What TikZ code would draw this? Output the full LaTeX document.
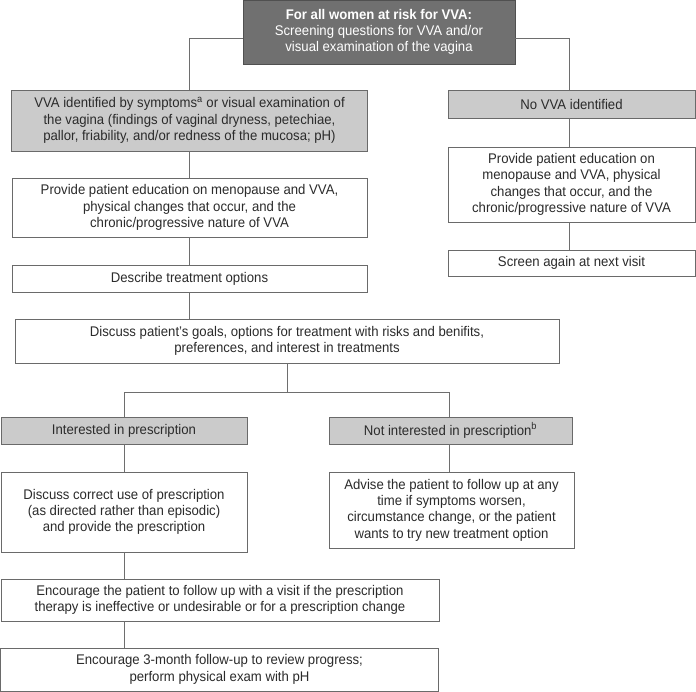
\documentclass[tikz,border=0pt]{standalone}
\usepackage{fontspec}
\setmainfont{Liberation Sans}[FakeStretch=0.94]
\definecolor{txt}{HTML}{2B2B2B}
\definecolor{linec}{HTML}{6E6E6E}
\definecolor{darkfill}{HTML}{707070}
\definecolor{darkedge}{HTML}{505050}
\definecolor{lightfill}{HTML}{CBCBCB}
\definecolor{boxedge}{HTML}{6A6A6A}
\tikzset{
  base/.style={rectangle, inner sep=0pt, align=center, text=txt,
    font=\fontsize{14}{16.3}\selectfont, line width=0.9pt},
  whitebox/.style={base, draw=boxedge, fill=white},
  graybox/.style={base, draw=boxedge, fill=lightfill},
  darkbox/.style={base, draw=darkedge, fill=darkfill, text=white},
  conn/.style={draw=linec, line width=0.9pt}
}
\begin{document}
\begin{tikzpicture}[x=1pt,y=-1pt]
\useasboundingbox (0,0) rectangle (696,692);
\fill[white] (0,0) rectangle (696,692);

\node[darkbox, minimum width=272pt, minimum height=64pt] (top) at (379,32)
  {\textbf{For all women at risk for VVA:}\\Screening questions for VVA and/or\\visual examination of the vagina};
\node[graybox, minimum width=356pt, minimum height=61pt] (vva) at (189.5,120.5)
  {VVA identified by symptoms\textsuperscript{a} or visual examination of\\the vagina (findings of vaginal dryness, petechiae,\\pallor, friability, and/or redness of the mucosa; pH)};
\node[graybox, minimum width=247pt, minimum height=28pt] (novva) at (571.5,104)
  {No VVA identified};
\node[whitebox, minimum width=355pt, minimum height=59pt] (edu1) at (189.5,207.5)
  {Provide patient education on menopause and VVA,\\physical changes that occur, and the\\chronic/progressive nature of VVA};
\node[whitebox, minimum width=247pt, minimum height=75pt] (edu2) at (571.5,184.5)
  {Provide patient education on\\menopause and VVA, physical\\changes that occur, and the\\chronic/progressive nature of VVA};
\node[whitebox, minimum width=247pt, minimum height=26pt] (screen) at (571.5,263)
  {Screen again at next visit};
\node[whitebox, minimum width=355pt, minimum height=27pt] (describe) at (189.5,278.5)
  {Describe treatment options};
\node[whitebox, minimum width=544pt, minimum height=44pt] (discuss) at (287,341)
  {Discuss patient's goals, options for treatment with risks and benifits,\\preferences, and interest in treatments};
\node[graybox, minimum width=246pt, minimum height=27pt] (interested) at (124,430.5)
  {Interested in prescription};
\node[graybox, minimum width=243pt, minimum height=27pt] (notint) at (450.5,430.5)
  {Not interested in prescription\textsuperscript{b}};
\node[whitebox, minimum width=246pt, minimum height=80pt] (dcorrect) at (124,512)
  {Discuss correct use of prescription\\(as directed rather than episodic)\\and provide the prescription};
\node[whitebox, minimum width=245pt, minimum height=76pt] (advise) at (451.5,510)
  {Advise the patient to follow up at any\\time if symptoms worsen,\\circumstance change, or the patient\\wants to try new treatment option};
\node[whitebox, minimum width=438pt, minimum height=42pt] (encourage) at (220,600)
  {Encourage the patient to follow up with a visit if the prescription\\therapy is ineffective or undesirable or for a prescription change};
\node[whitebox, minimum width=438pt, minimum height=43pt] (enc3) at (219.5,669.5)
  {Encourage 3-month follow-up to review progress;\\perform physical exam with pH};

\coordinate (split) at (287,392);

\draw[conn] ([yshift=-6pt]top.west) -| (vva.north);
\draw[conn] ([yshift=-6pt]top.east) -| ([xshift=-2.5pt]novva.north);
\draw[conn] (vva.south) -- (edu1.north);
\draw[conn] (edu1.south) -- (describe.north);
\draw[conn] (describe.south) -- (describe.south |- discuss.north);
\draw[conn] ([xshift=-2.5pt]novva.south) -- ([xshift=-2.5pt]edu2.north);
\draw[conn] ([xshift=-2.5pt]edu2.south) -- ([xshift=-2.5pt]screen.north);
\draw[conn] (discuss.south) -- (split);
\draw[conn] (split) -| (interested.north);
\draw[conn] (split) -| ([xshift=-1.5pt]notint.north);
\draw[conn] (interested.south) -- (dcorrect.north);
\draw[conn] ([xshift=-1.5pt]notint.south) -- ([xshift=-1.5pt]notint.south |- advise.north);
\draw[conn] (dcorrect.south) -- (dcorrect.south |- encourage.north);
\draw[conn] (dcorrect.south |- encourage.south) -- (dcorrect.south |- enc3.north);
\end{tikzpicture}
\end{document}
